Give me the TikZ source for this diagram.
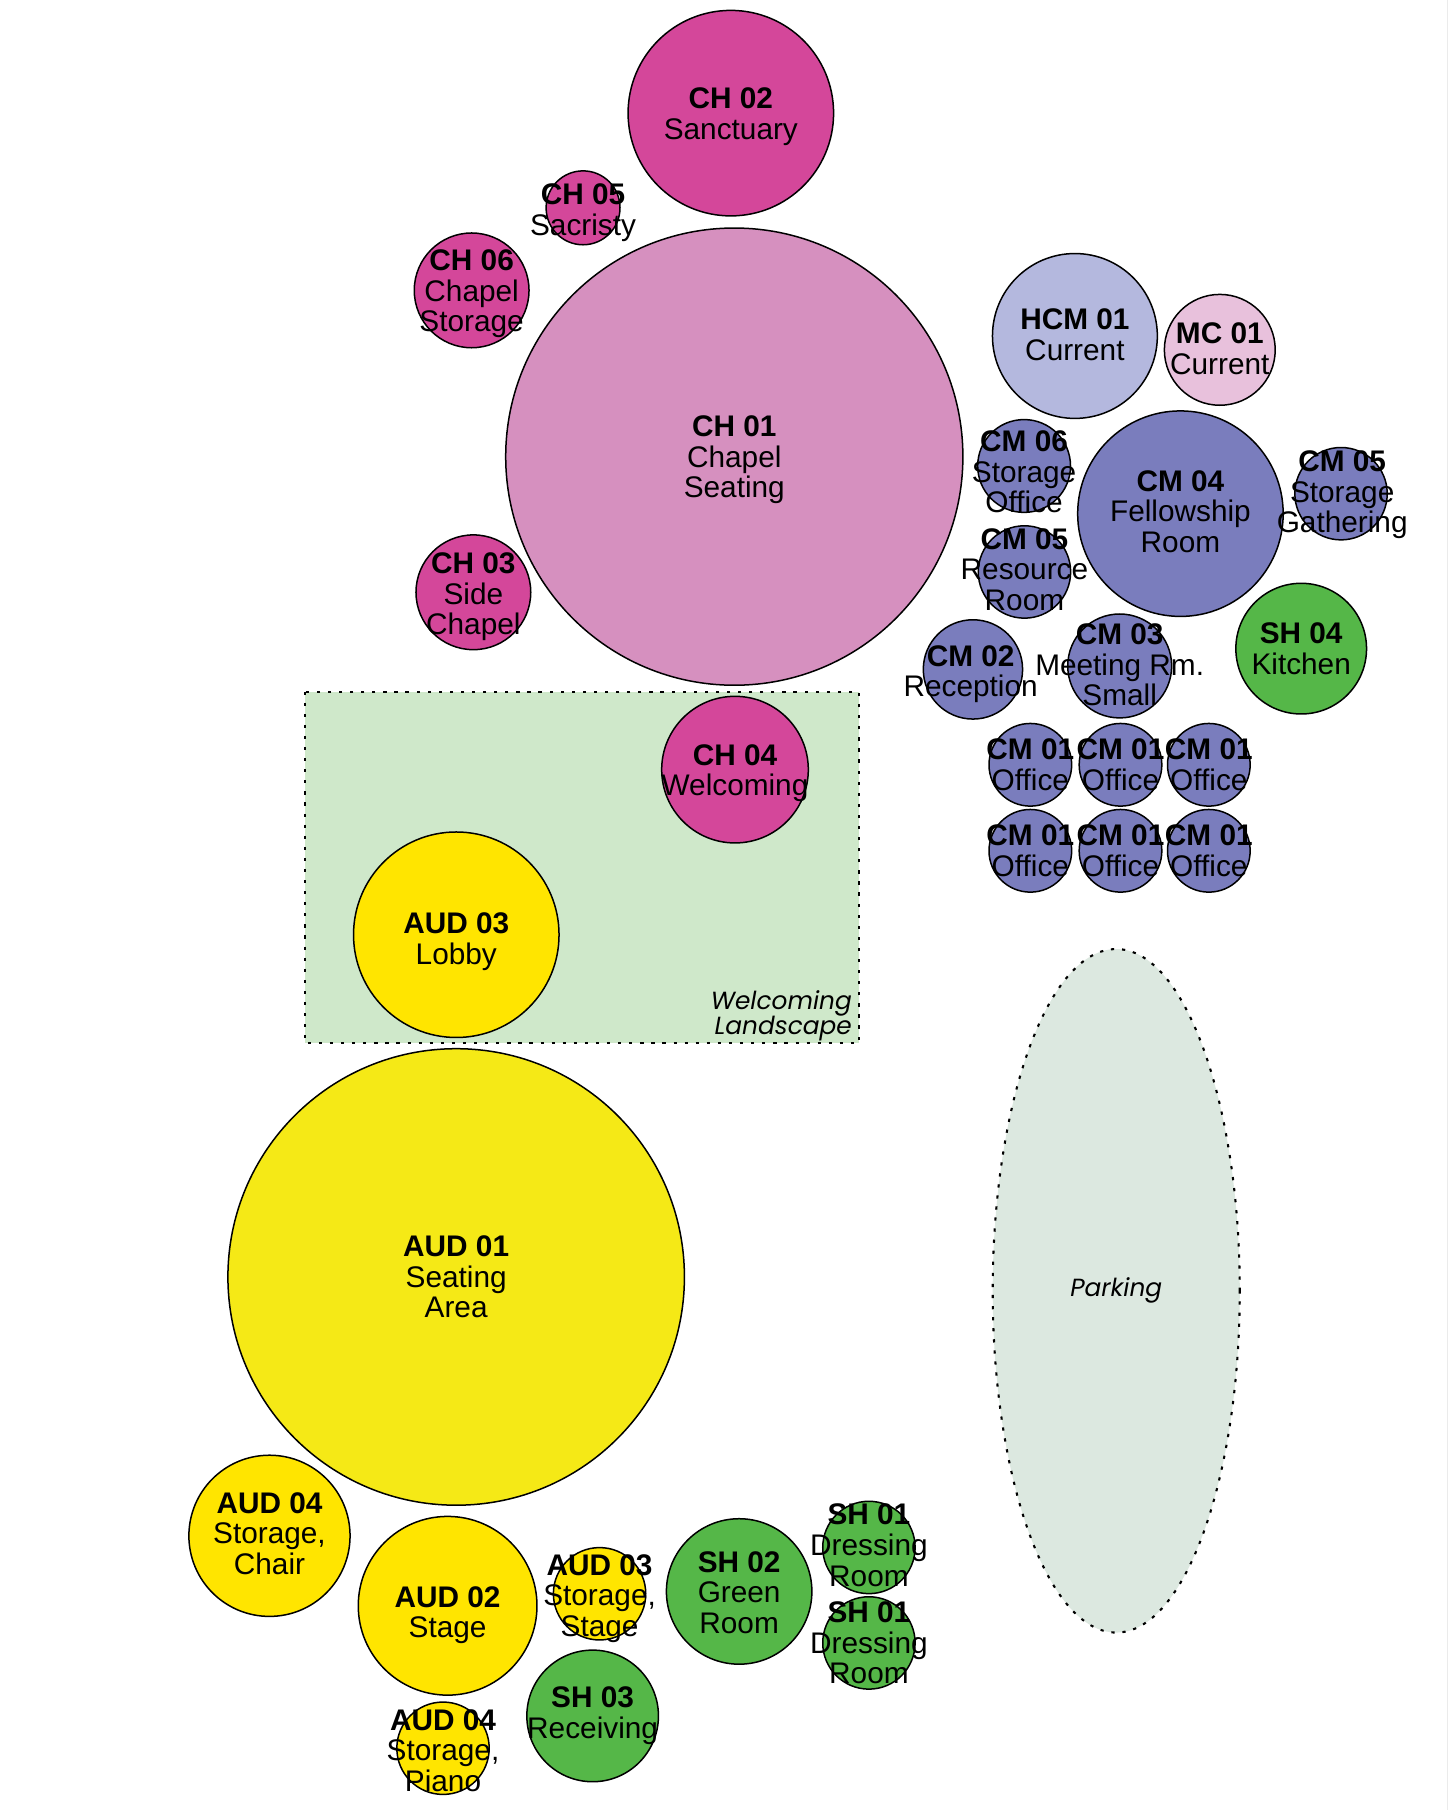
\documentclass[tikz,border=0pt]{standalone}
\usepackage{fontspec}
\setmainfont{Liberation Sans}
\newfontfamily\geofont{Poppins}
\usetikzlibrary{shapes.geometric}
\definecolor{chmag}{HTML}{D4479A}
\definecolor{chpink}{HTML}{D690BF}
\definecolor{hcmblue}{HTML}{B4B8DE}
\definecolor{mcpink}{HTML}{E8C1DC}
\definecolor{cmblue}{HTML}{7A7DBD}
\definecolor{shgreen}{HTML}{55B748}
\definecolor{audyel}{HTML}{FFE500}
\definecolor{audlemon}{HTML}{F5E916}
\definecolor{landgreen}{HTML}{CFE8CA}
\definecolor{parkgrey}{HTML}{DCE8E0}
\tikzset{
  roomc/.style={circle, draw=black, line width=1.3pt, inner sep=0pt},
  roomt/.style={align=center, inner sep=0pt, font=\fontsize{25.8}{26.5}\selectfont},
  zonet/.style={align=right, inner sep=0pt, font=\geofont\itshape\fontsize{21.5}{22}\selectfont},
  zoneline/.style={draw=black, line width=1.8pt, dash pattern=on 2.8pt off 6.8pt}
}
\newcommand{\rc}[5]{\node[roomc, fill=#5, minimum size={2*#4pt}] (#1) at (#2,#3) {};}
\begin{document}
\begin{tikzpicture}[x=1pt,y=-1pt]
\useasboundingbox (0,0) rectangle (1255,1567.7);
\fill[white] (0,0) rectangle (1255,1567.7);
\draw[color={rgb,255:red,235;green,235;blue,235}, line width=0.8pt] (1254,0) -- (1254,1567.7);
% zones
\path[zoneline, fill=landgreen] (264,599) rectangle (743.6,903.6);
\node[ellipse, zoneline, fill=parkgrey, minimum width=214pt, minimum height=592pt, inner sep=0pt] (park) at (966.8,1118) {};
% chapel
\rc{ch02}{633}{98}{89}{chmag}
\rc{ch05}{505}{180}{32}{chmag}
\rc{ch06}{408.5}{251.5}{49.7}{chmag}
\rc{ch01}{636}{395.5}{198}{chpink}
\rc{ch03}{410}{513}{49.7}{chmag}
\rc{ch04}{636.6}{666.6}{63.5}{chmag}
% community
\rc{hcm01}{931}{291}{71.4}{hcmblue}
\rc{mc01}{1056.5}{303}{48}{mcpink}
\rc{cm06}{887}{403.6}{40.2}{cmblue}
\rc{cm04}{1022.4}{444.9}{89}{cmblue}
\rc{cm05a}{1161.5}{427.6}{40}{cmblue}
\rc{cm05b}{887.3}{495.4}{40}{cmblue}
\rc{sh04}{1127}{561.8}{56.6}{shgreen}
\rc{cm02}{842.7}{579.8}{43}{cmblue}
\rc{cm03}{969.8}{576.8}{45}{cmblue}
\rc{cm01a}{892.4}{662.4}{35.8}{cmblue}
\rc{cm01b}{970.5}{662.4}{35.8}{cmblue}
\rc{cm01c}{1047}{662.4}{35.8}{cmblue}
\rc{cm01d}{892.4}{736.9}{35.8}{cmblue}
\rc{cm01e}{970.5}{736.9}{35.8}{cmblue}
\rc{cm01f}{1047}{736.9}{35.8}{cmblue}
% auditorium
\rc{aud03a}{395.2}{809.6}{89}{audyel}
\rc{aud01}{395.1}{1106}{197.7}{audlemon}
\rc{aud04a}{233.4}{1330.2}{69.8}{audyel}
\rc{aud02}{387.7}{1390.8}{77.4}{audyel}
\rc{aud03b}{519.3}{1380.4}{40}{audyel}
\rc{aud04b}{383.7}{1514.2}{40}{audyel}
% support
\rc{sh02}{640.2}{1378.4}{63}{shgreen}
\rc{sh01a}{752.6}{1340.3}{40}{shgreen}
\rc{sh01b}{752.6}{1423}{40}{shgreen}
\rc{sh03}{513.3}{1486.2}{57}{shgreen}
% texts
\node[roomt, yshift=-3pt] (ch02t) at (ch02.center) {\textbf{CH 02}\\Sanctuary};
\node[roomt, yshift=-4pt] (ch05t) at (ch05.center) {\textbf{CH 05}\\Sacristy};
\node[roomt, yshift=-3pt] (ch06t) at (ch06.center) {\textbf{CH 06}\\Chapel\\Storage};
\node[roomt, yshift=-3pt] (ch01t) at (ch01.center) {\textbf{CH 01}\\Chapel\\Seating};
\node[roomt, yshift=-4pt] (ch03t) at (ch03.center) {\textbf{CH 03}\\Side\\Chapel};
\node[roomt, yshift=-3pt] (ch04t) at (ch04.center) {\textbf{CH 04}\\Welcoming};
\node[roomt, yshift=1pt] (hcm01t) at (hcm01.center) {\textbf{HCM 01}\\Current};
\node[roomt, yshift=1pt] (mc01t) at (mc01.center) {\textbf{MC 01}\\Current};
\node[roomt, yshift=-5pt] (cm06t) at (cm06.center) {\textbf{CM 06}\\Storage\\Office};
\node[roomt, yshift=2pt] (cm04t) at (cm04.center) {\textbf{CM 04}\\Fellowship\\Room};
\node[roomt, yshift=-1pt, xshift=1pt] (cm05at) at (cm05a.center) {\textbf{CM 05}\\Storage\\Gathering};
\node[roomt, yshift=2pt] (cm05bt) at (cm05b.center) {\textbf{CM 05}\\Resource\\Room};
\node[roomt] (sh04t) at (sh04.center) {\textbf{SH 04}\\Kitchen};
\node[roomt, yshift=-4pt, xshift=-2pt] (cm02t) at (cm02.center) {\textbf{CM 02}\\Reception};
\node[roomt, yshift=1pt] (cm03t) at (cm03.center) {\textbf{CM 03}\\Meeting Rm.\\Small};
\foreach \n in {cm01a,cm01b,cm01c,cm01d,cm01e,cm01f}{
  \node[roomt] (\n t) at (\n.center) {\textbf{CM 01}\\Office};
}
\node[roomt, yshift=-6pt] (aud03at) at (aud03a.center) {\textbf{AUD 03}\\Lobby};
\node[roomt] (aud01t) at (aud01.center) {\textbf{AUD 01}\\Seating\\Area};
\node[roomt, yshift=2pt] (aud04at) at (aud04a.center) {\textbf{AUD 04}\\Storage,\\Chair};
\node[roomt, yshift=-8pt] (aud02t) at (aud02.center) {\textbf{AUD 02}\\Stage};
\node[roomt, yshift=-4pt] (aud03bt) at (aud03b.center) {\textbf{AUD 03}\\Storage,\\Stage};
\node[roomt, yshift=-2pt] (aud04bt) at (aud04b.center) {\textbf{AUD 04}\\Storage,\\Piano};
\node[roomt, yshift=-1pt] (sh02t) at (sh02.center) {\textbf{SH 02}\\Green\\Room};
\node[roomt, yshift=2pt] (sh01at) at (sh01a.center) {\textbf{SH 01}\\Dressing\\Room};
\node[roomt] (sh01bt) at (sh01b.center) {\textbf{SH 01}\\Dressing\\Room};
\node[roomt] (sh03t) at (sh03.center) {\textbf{SH 03}\\Receiving};
\node[zonet, anchor=east] (landt) at (738,880) {Welcoming\\Landscape};
\node[zonet] (parkt) at (park.center) {Parking};
\end{tikzpicture}
\end{document}
